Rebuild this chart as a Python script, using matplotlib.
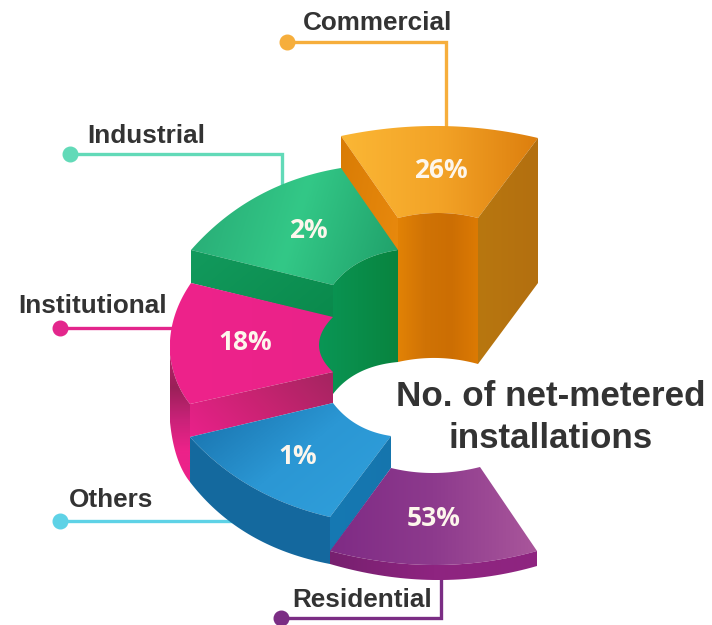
import numpy as np
import matplotlib
matplotlib.use("Agg")
import matplotlib.pyplot as plt
from matplotlib.colors import LinearSegmentedColormap
from matplotlib.patches import Polygon

# segment names and shares
categories = ["Commercial", "Industrial", "Institutional", "Others", "Residential"]
shares = [26, 2, 18, 1, 53]
chart_title = ["No. of net-metered", "installations"]

W, H = 712, 625
fig = plt.figure(figsize=(W / 100, H / 100), dpi=100)
ax = fig.add_axes([0, 0, 1, 1])
ax.set_xlim(0, W)
ax.set_ylim(H, 0)
ax.axis("off")


def arc(p0, p1, p2, n=40):
    # curve from p0 to p2 passing through p1
    p0, p1, p2 = np.array(p0, float), np.array(p1, float), np.array(p2, float)
    c = 2 * p1 - 0.5 * p0 - 0.5 * p2
    t = np.linspace(0, 1, n)[:, None]
    return (1 - t) ** 2 * p0 + 2 * t * (1 - t) * c + t ** 2 * p2


def shape(*parts):
    out = []
    for part in parts:
        out.extend(np.atleast_2d(np.array(part, float)).tolist())
    return np.array(out)


def fill(pts, colors, angle=0, z=1):
    # polygon painted with a linear gradient running along angle (degrees, screen coords)
    x0, y0 = pts.min(axis=0)
    x1, y1 = pts.max(axis=0)
    xx, yy = np.meshgrid(np.linspace(0, 1, 120), np.linspace(0, 1, 120))
    a = np.deg2rad(angle)
    g = xx * np.cos(a) + yy * np.sin(a)
    g = (g - g.min()) / (g.max() - g.min())
    cmap = LinearSegmentedColormap.from_list("g", colors)
    im = ax.imshow(g, cmap=cmap, extent=[x0, x1, y1, y0], aspect="auto",
                   zorder=z, interpolation="bilinear")
    patch = Polygon(pts, closed=True, transform=ax.transData, fc="none", ec="none")
    ax.add_patch(patch)
    im.set_clip_path(patch)


# Commercial block
fill(shape(arc((341, 136), (440, 126), (538, 138)), [(478, 218)],
           arc((478, 218), (438, 213), (398, 218))),
     ["#fbb735", "#f3a327", "#dd7f0e"], 0, 2)
fill(shape([(341, 136), (398, 218), (398, 252), (341, 170)]), ["#d97c05", "#e8890d"], 20, 2)
fill(shape(arc((398, 218), (438, 213), (478, 218)), [(478, 364)],
           arc((478, 364), (438, 358), (398, 362))),
     ["#e28206", "#d07305", "#cc6e03", "#dc7a04"], 0, 2)
fill(shape([(478, 218), (538, 138), (538, 283), (478, 364)]), ["#b8770f", "#b36f10"], 0, 2)

# Industrial block
fill(shape(arc((341, 168), (258, 196), (191, 250)), [(333, 285)],
           arc((333, 285), (360, 262), (398, 250))),
     ["#27a974", "#33c887", "#1f9f69"], 10, 3)
fill(shape([(191, 250), (333, 285), (333, 318), (191, 283)]), ["#129a5d", "#0a8a4c"], 30, 3)

# Institutional block
fill(shape(arc((191, 283), (174, 318), (170, 355)), arc((170, 355), (177, 382), (190, 404)),
           [(333, 372), (333, 317)]),
     ["#ee238b", "#ea2289"], 0, 3)
fill(shape([(190, 404), (333, 372), (333, 403), (190, 437)]),
     ["#e9218a", "#c92372", "#a42560"], 335, 4)
fill(shape([(170, 355), (170, 422)], arc((170, 422), (177, 457), (190, 482)), [(190, 404)],
           arc((190, 404), (177, 382), (170, 355))),
     ["#b5246a", "#9a2058", "#c82278", "#ec2289", "#ec2289"], 90, 3)

# inner wall of the Industrial block sits over the pink one
fill(shape(arc((333, 285), (360, 262), (398, 250)), [(398, 362)],
           arc((398, 362), (360, 372), (333, 394)), [(333, 372)],
           arc((333, 372), (319, 345), (333, 317))),
     ["#0a9655", "#08843f"], 0, 5)

# Others block
fill(shape([(190, 437), (333, 403)], arc((333, 403), (358, 425), (391, 436)), [(330, 517)],
           arc((330, 517), (252, 487), (190, 437))),
     ["#176fa9", "#2b97d4", "#30a0dc"], 35, 6)
fill(shape(arc((190, 437), (252, 487), (330, 517)), [(330, 564)],
           arc((330, 564), (250, 535), (190, 482))),
     ["#156a9e", "#14689f"], 0, 6)
fill(shape([(391, 436), (391, 468), (330, 552), (330, 517)]), ["#1679b3", "#1575ad"], 0, 6)

# Residential block
fill(shape(arc((391, 468), (435, 473), (480, 467)), [(537, 551)],
           arc((537, 551), (435, 565), (330, 551))),
     ["#7f2b85", "#8d3a8d", "#a9569b"], 0, 7)
fill(shape(arc((330, 551), (435, 565), (537, 551)), [(537, 566)],
           arc((537, 566), (435, 580), (330, 564))),
     ["#77206f", "#8e2480", "#8f2580"], 0, 7)

# leader lines: one for each name in categories
leader_colors = ["#f6ae3c", "#62dab8", "#e3268c", "#5ed2e6", "#7b2d84"]
leaders = [
    [(287, 42), (446, 42), (446, 126)],
    [(70, 154), (282, 154), (282, 184)],
    [(60, 328), (172, 328)],
    [(60, 521), (232, 521)],
    [(281, 618), (441, 618), (441, 577)],
]
for path, color in zip(leaders, leader_colors):
    xs, ys = zip(*path)
    ax.plot(xs, ys, color=color, lw=2.4, solid_joinstyle="miter", zorder=1.5)
    ax.plot(xs[0], ys[0], "o", color=color, ms=10.5, zorder=8)

# category names
name_pos = [(378, 23), (146, 136), (93, 306), (111, 500), (362, 600)]
for name, (x, y) in zip(categories, name_pos):
    ax.text(x, y, name, ha="center", va="center", fontsize=18.8, fontweight="bold",
            family="Liberation Sans", color="#333333", zorder=9)

# share labels on the top faces
share_pos = [(441, 171), (308, 231), (245, 343), (298, 457), (434, 518)]
for value, (x, y) in zip(shares, share_pos):
    ax.text(x, y, f"{value}%", ha="center", va="center", fontsize=19, fontweight="bold",
            family="Open Sans", color="#fdf6ec", zorder=9)

# centre title
for line, y in zip(chart_title, (397, 438)):
    ax.text(551, y, line, ha="center", va="center", fontsize=25.2, fontweight="bold",
            family="Liberation Sans", color="#333333", zorder=9)

ax.set_xlim(0, W)
ax.set_ylim(H, 0)
fig.savefig("out.png", dpi=100)
